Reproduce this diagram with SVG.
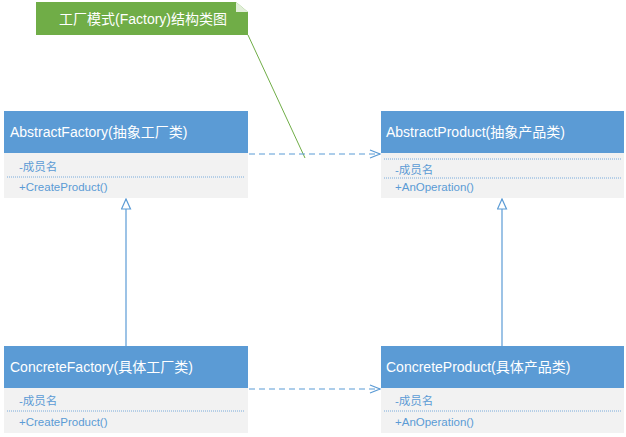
<svg xmlns="http://www.w3.org/2000/svg" width="626" height="437" viewBox="0 0 626 437">
<style>
.h{fill:#5b9bd5}
.b{fill:#f2f2f2}
.t{font-family:"Liberation Sans","Noto Sans CJK SC",sans-serif;fill:#fff;font-size:14px}
.m{font-family:"Liberation Sans","Noto Sans CJK SC",sans-serif;fill:#5b9bd5;font-size:11.5px}
.d{stroke:#5b9bd5;stroke-width:0.8;stroke-dasharray:1,1}
.c{fill:none;stroke:#5b9bd5;stroke-width:1.2}
</style>
<defs>
<marker id="o" markerWidth="12" markerHeight="10" refX="11" refY="5" orient="auto" markerUnits="userSpaceOnUse"><path d="M1,1 L11,5 L1,9" fill="none" stroke="#5b9bd5" stroke-width="1.2"/></marker>
<marker id="tri" markerWidth="12" markerHeight="14" refX="11" refY="5" orient="auto" markerUnits="userSpaceOnUse"><path d="M1,0.5 L11,5 L1,9.5 Z" fill="#fff" stroke="#5b9bd5" stroke-width="1.2"/></marker>
</defs>
<g id="note">
<path d="M36,2 H236 L248,12 V35 H36 Z" fill="#70ad47"/>
<path d="M236,2 L248,12 H236 Z" fill="#e2efd9"/>
<text x="59" y="24" class="t" font-size="15">工厂模式(Factory)结构类图</text>
</g>
<g id="connectors">
<line x1="248" y1="35" x2="305" y2="158" stroke="#70ad47" stroke-width="1"/>
<line x1="249" y1="154" x2="380" y2="154" class="c" stroke-dasharray="6,4" marker-end="url(#o)"/>
<line x1="249" y1="389" x2="380" y2="389" class="c" stroke-dasharray="6,4" marker-end="url(#o)"/>
<line x1="126" y1="346" x2="126" y2="199" class="c" marker-end="url(#tri)"/>
<line x1="502" y1="346" x2="502" y2="199" class="c" marker-end="url(#tri)"/>
</g>
<g id="abstractFactory">
<rect x="4" y="111" width="244" height="42" class="h"/>
<rect x="4" y="153" width="244" height="45" class="b"/>
<text x="10" y="137" class="t">AbstractFactory(抽象工厂类)</text>
<text x="19" y="171" class="m">-成员名</text>
<line x1="7" y1="177" x2="245" y2="177" class="d"/>
<text x="19" y="191" class="m">+CreateProduct()</text>
</g>
<g id="abstractProduct">
<rect x="381" y="111" width="243" height="42" class="h"/>
<rect x="381" y="153" width="243" height="45" class="b"/>
<text x="386" y="137" class="t">AbstractProduct(抽象产品类)</text>
<line x1="384" y1="159" x2="621" y2="159" class="d"/>
<text x="395" y="174" class="m">-成员名</text>
<line x1="384" y1="178" x2="621" y2="178" class="d"/>
<text x="395" y="191" class="m">+AnOperation()</text>
</g>
<g id="concreteFactory">
<rect x="4" y="346" width="244" height="42" class="h"/>
<rect x="4" y="388" width="244" height="45" class="b"/>
<text x="10" y="372" class="t">ConcreteFactory(具体工厂类)</text>
<text x="19" y="405" class="m">-成员名</text>
<line x1="7" y1="411" x2="245" y2="411" class="d"/>
<text x="19" y="426" class="m">+CreateProduct()</text>
</g>
<g id="concreteProduct">
<rect x="381" y="346" width="243" height="42" class="h"/>
<rect x="381" y="388" width="243" height="45" class="b"/>
<text x="386" y="372" class="t">ConcreteProduct(具体产品类)</text>
<text x="395" y="405" class="m">-成员名</text>
<line x1="384" y1="411" x2="621" y2="411" class="d"/>
<text x="395" y="426" class="m">+AnOperation()</text>
</g>
</svg>
